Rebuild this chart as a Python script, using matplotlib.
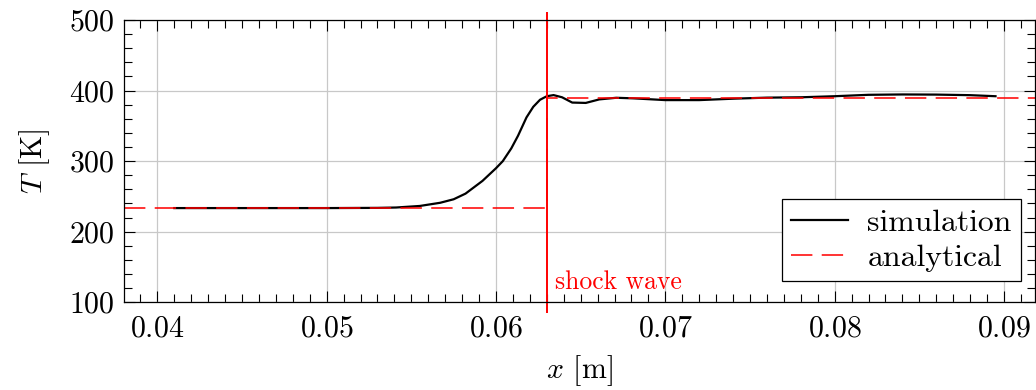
import numpy as np
import matplotlib.pyplot as plt
from matplotlib.ticker import MultipleLocator

plt.rcParams['font.family'] = 'serif'
plt.rcParams['font.serif'] = ['cmr10']
plt.rcParams['mathtext.fontset'] = 'cm'
plt.rcParams['axes.formatter.use_mathtext'] = True
plt.rcParams['font.size'] = 21.5

# simulation profile
x_sim = [0.0410, 0.0450, 0.0500, 0.0530, 0.0541, 0.0555, 0.0567, 0.0575,
         0.0582, 0.0592, 0.0600, 0.0604, 0.0609, 0.0613, 0.0618, 0.0622,
         0.0626, 0.0630, 0.0634, 0.0639, 0.0645, 0.0653, 0.0661, 0.0671,
         0.0681, 0.0700, 0.0720, 0.0740, 0.0760, 0.0780, 0.0800, 0.0820,
         0.0840, 0.0860, 0.0880, 0.0895]
T_sim = [233.5, 233.5, 233.5, 233.8, 234.3, 236.5, 241.0, 246.0,
         254.0, 272.0, 290.0, 300.0, 318.0, 336.0, 362.0, 377.0,
         387.0, 392.0, 393.6, 390.5, 383.0, 382.5, 387.5, 389.8,
         389.0, 386.5, 386.5, 388.5, 390.0, 390.5, 392.0, 394.0,
         394.5, 394.3, 393.5, 392.0]

# analytical solution
x_an = [0.0380, 0.0630, 0.0630, 0.0919]
T_an = [234.0, 234.0, 389.0, 389.0]
x_shock = 0.063

fig = plt.figure(figsize=(10.36, 3.9), dpi=100)
ax = fig.add_axes([0.1197, 0.2249, 0.8798, 0.7238])

ax.plot(x_sim, T_sim, color='black', lw=1.6, label='simulation')
ax.plot(x_an, T_an, color='red', alpha=0.8, lw=1.4, dashes=(11, 4.8),
        label='analytical')
ax.vlines(x_shock, 85, 511, color='red', lw=1.4, clip_on=False)
ax.text(x_shock + 0.0005, 112, 'shock wave', color='red', fontsize=18.5,
        va='bottom', ha='left')

ax.set_xlim(0.03803, 0.09186)
ax.set_ylim(100, 500)
ax.xaxis.set_major_locator(MultipleLocator(0.01))
ax.xaxis.set_minor_locator(MultipleLocator(0.001))
ax.yaxis.set_major_locator(MultipleLocator(100))
ax.yaxis.set_minor_locator(MultipleLocator(20))
ax.tick_params(which='both', direction='in', top=True, right=True, width=0.8)
ax.tick_params(which='major', length=8)
ax.tick_params(which='minor', length=5.5)
ax.tick_params(axis='x', pad=9)
ax.tick_params(axis='y', pad=7)
for s in ax.spines.values():
    s.set_linewidth(0.9)
ax.grid(True, which='major', color='#c8c8c8', lw=0.9)
ax.set_axisbelow(True)

ax.set_xlabel(r'$x$ [m]', labelpad=8)
ax.set_ylabel(r'$T$ [K]', labelpad=12)

leg = ax.legend(loc='lower right', bbox_to_anchor=(0.9845, 0.075),
                fontsize=22.8, fancybox=False, framealpha=1,
                edgecolor='black', handlelength=1.8, handletextpad=0.6,
                labelspacing=0.2, borderpad=0.3, borderaxespad=0)
leg.get_frame().set_linewidth(0.9)

fig.savefig('out.png', dpi=100)
